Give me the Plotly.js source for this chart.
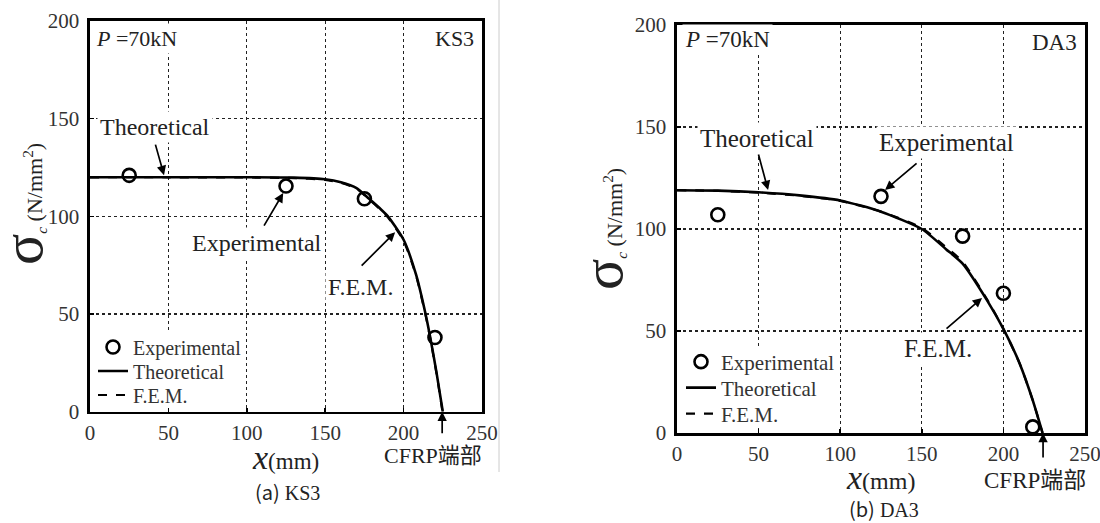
<!DOCTYPE html>
<html><head><meta charset="utf-8">
<script src="https://cdn.plot.ly/plotly-3.0.1.min.js"></script>
<style>html,body{margin:0;padding:0;background:#fff}#chart{width:1100px;height:523px}</style>
</head><body><div id="chart"></div>
<script>
// ---- (a) KS3 ----
const ks3ExpX  = [25, 125, 175, 220];
const ks3ExpY  = [121, 115.5, 109, 38];
const ks3TheoX = [0, 50, 100, 130, 150, 160, 170, 178, 185, 190, 200, 208, 214, 217, 221, 225];
const ks3TheoY = [120, 120, 120, 119.8, 119, 117.5, 114.5, 109, 104, 100, 88, 70, 50, 38, 20, 0];
const ks3FemX  = [0, 50, 100, 130, 150, 160, 170, 178, 185, 190, 200, 208, 214, 217, 221, 224.8];
const ks3FemY  = [120, 120, 119.9, 119.6, 118.7, 117.2, 114.2, 108.6, 103.6, 99.5, 87.5, 69.5, 49.5, 37.5, 19.5, 0];
// ---- (b) DA3 ----
const da3ExpX  = [25, 125, 175, 200, 218];
const da3ExpY  = [107, 116, 96.5, 68.5, 3];
const da3TheoX = [0, 25, 50, 75, 100, 125, 150, 165, 175, 190, 200, 210, 218, 224];
const da3TheoY = [119, 118.8, 118, 116.5, 114, 108.5, 100, 90, 83, 65, 51, 34, 16, 0];
const da3FemX  = [0, 25, 50, 75, 100, 125, 150, 165, 175, 190, 200, 210, 218, 224];
const da3FemY  = [119, 118.7, 117.8, 116.3, 113.8, 108.5, 100.5, 91, 84, 65.5, 51, 34, 16, 0];
// ---- axes / labels ----
const xTicks = [0, 50, 100, 150, 200, 250];
const yTicks = [0, 50, 100, 150, 200];
const seriesNames = ['Experimental', 'Theoretical', 'F.E.M.'];
const xTitle = "<span style='font-size:34px'><i>x</i></span>(mm)";
const yTitle = "<span style='font-size:58px'>σ</span><sub><i>c</i></sub> (N/mm<sup>2</sup>)";

const SERIF = '"Liberation Serif", "Times New Roman", serif';
const CJK = '"Liberation Serif", "Noto Sans CJK SC", serif';
const TXT = '#222';

// each series has its own legend box so the rows can be spaced like the original
function traces(ex, ey, tx, ty, fx, fy, xa, ya, legs) {
  return [
    {x: tx, y: ty, xaxis: xa, yaxis: ya, name: seriesNames[1], mode: 'lines', legend: legs[1],
     line: {color: '#000', width: 2.6, shape: 'spline', smoothing: 0.6}},
    {x: fx, y: fy, xaxis: xa, yaxis: ya, name: seriesNames[2], mode: 'lines', legend: legs[2],
     line: {color: '#000', width: 2.2, dash: 'dash', shape: 'spline', smoothing: 0.6}},
    {x: ex, y: ey, xaxis: xa, yaxis: ya, name: seriesNames[0], mode: 'markers', legend: legs[0],
     marker: {symbol: 'circle-open', size: 13, color: '#000', line: {width: 2.6, color: '#000'}}}
  ];
}

const data = [
  ...traces(ks3ExpX, ks3ExpY, ks3TheoX, ks3TheoY, ks3FemX, ks3FemY, 'x', 'y', ['legend', 'legend3', 'legend4']),
  ...traces(da3ExpX, da3ExpY, da3TheoX, da3TheoY, da3FemX, da3FemY, 'x2', 'y2', ['legend2', 'legend5', 'legend6'])
];

function xAxis(domain, anchor) {
  return {domain: domain, anchor: anchor, range: [0, 250], tickvals: xTicks, ticktext: xTicks.map(String),
    showline: true, mirror: true, linecolor: '#000', linewidth: 2.6,
    ticks: 'inside', ticklen: 4, tickwidth: 1.5, tickcolor: '#000', ticklabelstandoff: 0, ticklabeloverflow: 'allow',
    showgrid: true, gridcolor: '#222', griddash: 'dot', gridwidth: 1.3, zeroline: false,
    tickfont: {family: SERIF, size: 21, color: '#333'}, fixedrange: true};
}
function yAxis(domain, anchor) {
  return {domain: domain, anchor: anchor, range: [0, 200], tickvals: yTicks, ticktext: yTicks.map(String),
    showline: true, mirror: true, linecolor: '#000', linewidth: 2.6,
    ticks: 'inside', ticklen: 4, tickwidth: 1.5, tickcolor: '#000', ticklabelstandoff: 4,
    showgrid: true, gridcolor: '#222', griddash: 'dot', gridwidth: 1.3, zeroline: false,
    tickfont: {family: SERIF, size: 21, color: '#333'}, fixedrange: true};
}

function txt(xref, yref, x, y, text, size, anchor, bg) {
  return {xref: xref, yref: yref, x: x, y: y, text: text, showarrow: false, xanchor: anchor || 'center', yanchor: 'middle',
    font: {family: CJK, size: size, color: TXT}, bgcolor: bg === false ? 'rgba(0,0,0,0)' : '#fff', borderpad: 2};
}
function arr(xref, yref, x, y, ax, ay) {
  return {xref: xref, yref: yref, x: x, y: y, ax: ax, ay: ay, text: '', showarrow: true,
    arrowhead: 2, arrowsize: 1.1, arrowwidth: 1.7, arrowcolor: '#000'};
}
function ytitle(xpx, ypx) {
  const a = txt('paper', 'paper', xpx / 1100, 1 - ypx / 523, yTitle, 22, 'center', false);
  a.textangle = -90;
  a.borderpad = 0;
  return a;
}

const annotations = [
  // left
  txt('x', 'y', 1.9, 191.2, '<i>P</i> =70kN', 22, 'left'),
  txt('x', 'y', 247, 191.2, 'KS3', 22, 'right'),
  txt('x', 'y', 41.5, 145.6, 'Theoretical', 24),
  arr('x', 'y', 47.2, 121.1, -9, -32),
  txt('x', 'y', 106.6, 86.3, 'Experimental', 24),
  arr('x', 'y', 123.2, 111.9, -20, 34),
  txt('x', 'y', 172.3, 63.8, 'F.E.M.', 24),
  arr('x', 'y', 194.6, 91.9, -35, 35),
  arr('x', 'y', 224.6, 0, 0, 23),
  txt('paper', 'paper', 433 / 1100, 1 - 455 / 523, 'CFRP端部', 22, 'center', false),
  txt('paper', 'paper', 285 / 1100, 1 - 457 / 523, xTitle, 23, 'center', false),
  ytitle(22, 204),
  // right
  txt('x2', 'y2', 3.1, 193.1, '<i>P</i> =70kN', 23, 'left'),
  txt('x2', 'y2', 246.9, 191.2, 'DA3', 23, 'right'),
  txt('x2', 'y2', 49.0, 144.6, 'Theoretical', 25),
  arr('x2', 'y2', 55.8, 119.1, -10, -37),
  txt('x2', 'y2', 165.4, 142.2, 'Experimental', 25),
  arr('x2', 'y2', 127.5, 119.1, 33, -28),
  txt('x2', 'y2', 159.9, 41.2, 'F.E.M.', 25),
  arr('x2', 'y2', 186.9, 66.2, -37, 32),
  arr('x2', 'y2', 224.3, 0, 0, 26),
  txt('paper', 'paper', 1035 / 1100, 1 - 480 / 523, 'CFRP端部', 23, 'center', false),
  txt('paper', 'paper', 880 / 1100, 1 - 477 / 523, xTitle, 24, 'center', false),
  ytitle(602, 229),
  // captions
  {xref: 'paper', yref: 'paper', x: 287 / 1100, y: 1 - 491 / 523, text: "<span style='font-family:Noto Sans CJK SC'>(a)</span> KS3",
   showarrow: false, xanchor: 'center', yanchor: 'middle', font: {family: SERIF, size: 20, color: TXT}},
  {xref: 'paper', yref: 'paper', x: 884 / 1100, y: 1 - 508 / 523, text: "<span style='font-family:Noto Sans CJK SC'>(b)</span> DA3",
   showarrow: false, xanchor: 'center', yanchor: 'middle', font: {family: SERIF, size: 20, color: TXT}}
];

function leg(xpx, ypx, size) {
  return {bgcolor: 'rgba(255,255,255,0)', borderwidth: 0, xanchor: 'left', yanchor: 'middle', itemwidth: 30,
    x: xpx / 1100, y: 1 - ypx / 523, font: {family: SERIF, size: size, color: '#333'},
    itemclick: false, itemdoubleclick: false};
}

// white boxes behind the legends (they hide the dotted grid there, as in the original)
function box(x0, y0, x1, y1) {
  return {type: 'rect', xref: 'paper', yref: 'paper', x0: x0 / 1100, x1: x1 / 1100, y0: 1 - y1 / 523, y1: 1 - y0 / 523,
    fillcolor: '#fff', line: {width: 0}, layer: 'above'};
}

const layout = {
  width: 1100, height: 523, paper_bgcolor: '#fff', plot_bgcolor: '#fff',
  margin: {l: 0, r: 0, t: 0, b: 0},
  xaxis: xAxis([90 / 1100, 482 / 1100], 'y'),
  yaxis: yAxis([1 - 411.7 / 523, 1 - 21 / 523], 'x'),
  xaxis2: xAxis([677 / 1100, 1085 / 1100], 'y2'),
  yaxis2: yAxis([1 - 433 / 523, 1 - 25 / 523], 'x2'),
  legend:  leg(93, 347, 20),
  legend3: leg(93, 371, 20),
  legend4: leg(93, 395, 20),
  legend2: leg(681, 362, 21),
  legend5: leg(681, 388, 21),
  legend6: leg(681, 414, 21),
  annotations: annotations,
  shapes: [
    {type: 'line', xref: 'paper', yref: 'paper', x0: 499 / 1100, x1: 499 / 1100, y0: 1 - 472 / 523, y1: 1,
     line: {color: '#ccc', width: 1}},
    box(95, 333, 244, 408),
    box(682, 347, 840, 428)
  ],
  showlegend: true
};

Plotly.newPlot('chart', data, layout, {displayModeBar: false, staticPlot: true});
</script></body></html>
